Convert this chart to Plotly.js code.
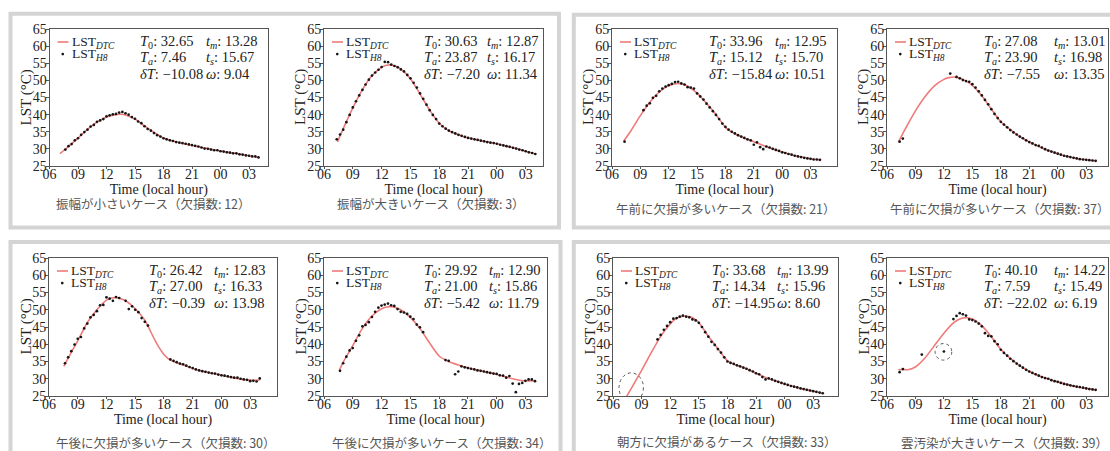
<!DOCTYPE html>
<html><head><meta charset="utf-8">
<script src="https://cdn.plot.ly/plotly-3.0.1.min.js"></script>
<style>html,body{margin:0;padding:0;background:#fff}#chart{width:1110px;height:451px}</style>
</head><body><div id="chart"></div>
<script>
// ---------------- DATA ----------------
const tickHours = [6, 9, 12, 15, 18, 21, 24, 27];
const tickLabels = ['06', '09', '12', '15', '18', '21', '00', '03'];
const lstTicks = [25, 30, 35, 40, 45, 50, 55, 60, 65];

const captions = [
  '振幅が小さいケース（欠損数: 12）',
  '振幅が大きいケース（欠損数: 3）',
  '午前に欠損が多いケース（欠損数: 21）',
  '午前に欠損が多いケース（欠損数: 37）',
  '午後に欠損が多いケース（欠損数: 30）',
  '午後に欠損が多いケース（欠損数: 34）',
  '朝方に欠損があるケース（欠損数: 33）',
  '雲汚染が大きいケース（欠損数: 39）'
];
const paramT0 = ['32.65', '30.63', '33.96', '27.08', '26.42', '29.92', '33.68', '40.10'];
const paramTa = ['7.46', '23.87', '15.12', '23.90', '27.00', '21.00', '14.34', '7.59'];
const paramDT = ['−10.08', '−7.20', '−15.84', '−7.55', '−0.39', '−5.42', '−14.95', '−22.02'];
const paramTm = ['13.28', '12.87', '12.95', '13.01', '12.83', '12.90', '13.99', '14.22'];
const paramTs = ['15.67', '16.17', '15.70', '16.98', '16.33', '15.86', '15.96', '15.49'];
const paramW  = ['9.04', '11.34', '10.51', '13.35', '13.98', '11.79', '8.60', '6.19'];

// Himawari-8 observation times (local hour, >24 = next day)
const obsHours = [7.33, 7.67,
  8, 8.33, 8.67, 9, 9.33, 9.67, 10, 10.33, 10.67, 11, 11.33, 11.67, 12, 12.33, 12.67,
  13, 13.33, 13.67, 14, 14.33, 14.67, 15, 15.33, 15.67, 16, 16.33, 16.67, 17, 17.33, 17.67,
  18, 18.33, 18.67, 19, 19.33, 19.67, 20, 20.33, 20.67, 21, 21.33, 21.67, 22, 22.33, 22.67,
  23, 23.33, 23.67, 24, 24.33, 24.67, 25, 25.33, 25.67, 26, 26.33, 26.67, 27, 27.33, 27.67,
  28];

// LST_H8 observations (null = missing)
const h8LST1 = [null, 29.8, 30.8, 31.4, 32.5, 33.1, 34.1, 34.9, 35.6, 36.5, 37.0, 37.9, 38.3, 38.7, 39.5, 39.8, 40.1,
  40.2, 40.6, 40.8, 40.4, 40.0, 39.3, 38.8, 38.0, 37.5, 36.6, 35.8, 35.3, 34.6, 34.0, 33.6,
  33.1, 32.8, 32.5, 32.3, 32.0, 31.8, 31.7, 31.5, 31.3, 31.1, 30.9, 30.7, 30.4, 30.1, 30.0,
  29.8, 29.6, 29.6, 29.3, 29.2, 29.0, 28.9, 28.7, 28.7, 28.4, 28.3, 28.1, 28.0, 27.8, 27.8, 27.5];
const h8LST2 = [32.8, 34.2, 35.6, 37.8, 39.9, 42.1, 43.9, 45.6, 47.2, 48.8, 50.2, 51.4, 52.3, 53.1, 53.9, 55.4, 55.3,
  54.6, 54.2, 53.8, 53.2, 52.6, 51.6, 50.6, 49.3, 47.9, 46.2, 44.6, 42.9, 41.3, 39.9, 38.7,
  37.4, 36.6, 35.9, 35.3, 34.9, 34.5, 34.1, 33.8, 33.5, 33.2, 33.0, 32.8, 32.6, 32.4, 32.2,
  32.0, 31.8, 31.7, 31.5, 31.2, 31.0, 30.8, 30.6, 30.3, 30.1, 29.8, 29.6, 29.3, 29.0, 28.8, 28.5];
const h8LST3 = [32.1, null, null, null, null, null, 41.3, 42.6, 43.3, 44.9, 45.5, 46.8, 47.6, 48.2, 48.6, 49.0, 49.5,
  49.6, 49.1, 48.8, 48.0, 47.9, 47.6, 46.2, 45.3, 44.4, 43.2, 42.1, 41.0, 39.9, 38.7, 37.4,
  36.4, 35.6, 35.0, 34.5, 34.0, 33.6, 33.2, 32.8, 32.5, 31.2, 31.9, 30.5, 29.9, 30.7, 30.4,
  30.0, 29.7, 29.4, 29.0, 28.8, 28.5, 28.3, 28.0, 27.8, 27.6, 27.4, 27.2, 27.1, 26.9, 26.9, 26.8];
const h8LST4 = [32.1, 33.0, null, null, null, null, null, null, null, null, null, null, null, null, null, null, 52.0,
  null, 51.0, 50.6, 50.1, 49.8, 49.6, 48.9, 47.9, 46.8, 45.6, 44.3, 43.0, 41.6, 40.2, 39.0,
  37.9, 37.1, 36.3, 35.5, 34.8, 34.2, 33.6, 33.1, 32.5, 32.0, 31.6, 31.1, 30.9, 30.4, 29.9,
  29.5, 29.2, 28.9, 28.6, 28.3, 28.0, 27.8, 27.6, 27.4, 27.2, 27.0, 26.9, 26.8, 26.7, 26.6, 26.5];
const h8LST5 = [null, 34.5, 36.2, 38.0, 39.9, 41.6, 42.1, 44.6, 46.0, 47.8, 48.5, 49.6, 51.3, 51.4, 53.6, 53.2, 52.6,
  53.7, 53.4, null, 52.6, 50.2, 51.0, 50.0, 49.3, 47.6, 46.5, 45.4, null, null, null, null,
  null, null, 35.6, 35.2, 34.8, 34.4, 34.2, 33.8, 33.4, 33.1, 32.7, 32.4, 32.2, 32.0, 31.8,
  31.6, 31.5, 31.2, 31.0, 30.9, 30.7, 30.5, 30.3, 30.3, 30.0, 29.8, 29.7, 29.3, 29.4, 29.2, 30.1];
const h8LST6 = [null, 32.3, 34.5, 36.4, 38.2, 38.9, 41.0, 42.6, 45.2, 45.6, 46.4, 47.9, 49.4, 50.6, 51.2, 51.5, 51.8,
  51.3, 51.1, 50.2, 49.4, 49.2, 48.8, 48.0, 47.3, 45.7, 44.9, 43.5, null, null, null, null,
  null, null, 35.4, 35.2, null, 31.3, 32.1, 33.6, 33.3, 33.1, 32.9, 32.7, 32.4, 32.3, 32.1,
  31.9, 31.7, 31.5, 31.4, 31.0, 30.9, 30.3, 30.8, 28.6, 26.1, 28.5, 28.8, 29.4, 29.8, 29.8, 29.3];
const h8LST7 = [null, null, null, null, null, null, null, null, null, null, 41.4, 42.7, 44.2, 45.3, 46.4, 47.4, 47.6,
  48.0, 48.3, 48.0, 47.8, 47.2, 46.9, 46.2, 45.0, 43.5, 42.2, 40.7, 39.8, 38.6, 37.6, 36.2,
  35.0, 34.6, 34.3, 33.9, 33.6, 33.2, 32.9, 32.5, 32.1, 31.6, 31.3, 30.5, 29.8, 30.1, 29.8,
  29.4, 29.1, 28.8, 28.5, 28.2, 27.9, 27.7, 27.5, 27.2, 27.0, 26.8, 26.6, 26.4, 26.2, 26.0, 25.8];
const h8LST8 = [31.9, 32.8, null, null, null, null, null, 37.0, null, null, null, null, null, null, 37.9, null, null,
  47.3, 48.2, 49.0, 48.7, 48.3, 47.2, 47.0, 46.6, 46.0, 45.2, 43.2, 42.4, 42.3, 40.9, 40.0,
  38.4, 37.5, 36.7, 35.8, 35.1, 34.4, 33.8, 33.2, 32.6, 32.1, 31.7, 31.3, 30.9, 30.5, 30.2,
  30.0, 29.6, 29.3, 29.1, 28.8, 28.5, 28.3, 28.1, 27.9, 27.7, 27.6, 27.4, 27.2, 27.0, 26.9, 26.8];

// LST_DTC fitted curves (hour, value)
const dtcHours1 = [7.1, 8, 9, 10, 11, 12, 13, 13.5, 14, 15, 16, 17, 18, 19, 20, 21, 22, 23, 24, 25, 26, 27, 28];
const dtcLST1 = [28.6, 30.7, 33.2, 35.7, 37.8, 39.3, 40.0, 40.1, 39.9, 38.7, 36.7, 34.8, 33.2, 32.3, 31.6, 31.0, 30.4, 29.9, 29.4, 28.9, 28.5, 28.0, 27.5];
const dtcHours2 = [7.4, 8, 9, 10, 11, 12, 12.5, 13, 13.5, 14, 15, 16, 17, 18, 19, 20, 21, 22, 23, 24, 25, 26, 27, 28];
const dtcLST2 = [32.0, 35.9, 42.0, 47.3, 51.4, 53.8, 54.4, 54.5, 54.1, 53.3, 50.5, 46.0, 41.3, 37.5, 35.3, 34.1, 33.2, 32.6, 32.0, 31.5, 30.8, 30.1, 29.3, 28.5];
const dtcHours3 = [7.25, 8, 9, 10, 11, 12, 12.5, 13, 13.5, 14, 15, 16, 17, 18, 19, 20, 21, 22, 23, 24, 25, 26, 27, 28];
const dtcLST3 = [32.3, 35.3, 39.7, 43.6, 46.6, 48.5, 48.9, 49.1, 48.9, 48.3, 46.3, 43.3, 40.0, 36.3, 34.4, 33.1, 32.1, 31.0, 30.0, 29.1, 28.3, 27.6, 27.1, 26.8];
const dtcHours4 = [7.2, 8, 9, 10, 11, 12, 12.5, 13, 13.5, 14, 15, 16, 17, 18, 19, 20, 21, 22, 23, 24, 25, 26, 27, 28];
const dtcLST4 = [32.0, 36.2, 41.1, 45.2, 48.4, 50.3, 50.8, 51.0, 50.8, 50.3, 48.5, 45.5, 41.6, 37.9, 35.6, 33.6, 32.0, 30.7, 29.5, 28.6, 27.8, 27.2, 26.8, 26.5];
const dtcHours5 = [7.55, 8, 9, 10, 11, 12, 12.5, 13, 13.5, 14, 15, 16, 16.5, 17, 17.5, 18, 18.5, 19, 20, 21, 22, 23, 24, 25, 26, 27, 28];
const dtcLST5 = [33.6, 36.0, 41.0, 46.3, 50.0, 52.8, 53.4, 53.5, 53.2, 52.6, 50.3, 47.0, 44.3, 41.5, 39.0, 37.0, 35.7, 35.0, 34.0, 33.0, 32.2, 31.6, 31.0, 30.4, 29.9, 29.6, 29.6];
const dtcHours6 = [7.6, 8, 9, 10, 11, 12, 12.5, 13, 13.5, 14, 15, 16, 17, 18, 19, 20, 21, 22, 23, 24, 25, 26, 27, 28];
const dtcLST6 = [32.4, 34.8, 39.6, 44.6, 48.2, 50.3, 50.8, 50.9, 50.6, 50.0, 47.8, 44.6, 40.4, 36.6, 35.0, 34.0, 33.2, 32.5, 31.9, 31.3, 30.5, 29.8, 29.4, 29.4];
const dtcHours7 = [7.2, 8, 9, 10, 11, 12, 12.5, 13, 13.5, 14, 14.5, 15, 16, 17, 18, 19, 20, 21, 22, 23, 24, 25, 26, 27, 28];
const dtcLST7 = [23.8, 27.6, 32.4, 37.5, 42.3, 45.9, 47.2, 47.9, 48.1, 48.0, 47.4, 46.3, 42.3, 38.7, 35.2, 33.9, 32.9, 31.6, 30.4, 29.4, 28.5, 27.7, 27.0, 26.4, 25.8];
const dtcHours8 = [7.2, 7.7, 8.2, 9, 10, 11, 12, 13, 13.5, 14, 14.5, 15, 15.5, 16, 17, 18, 19, 20, 21, 22, 23, 24, 25, 26, 27, 28];
const dtcLST8 = [32.6, 32.7, 32.6, 33.4, 36.0, 39.6, 43.2, 46.2, 47.1, 47.6, 47.7, 47.3, 46.5, 45.4, 42.2, 38.5, 35.9, 33.8, 32.1, 30.9, 29.9, 29.1, 28.3, 27.7, 27.2, 26.7];

// dotted circles marking problem regions
const highlightPanel = [6, 7];
const highlightX0 = [6.63, 11.07];
const highlightX1 = [9.19, 12.83];
const highlightY0 = [23.1, 35.4];
const highlightY1 = [31.7, 40.2];

// ---------------- LAYOUT CONFIG ----------------
const W = 1110, H = 451;
const px2x = p => p / W, px2y = p => 1 - p / H;
const frameX = [[49.5, 268], [324, 543], [612, 837], [887, 1108], [49, 277], [324, 547], [613, 838], [887, 1108]];
const frameY = [[29, 166], [29, 166], [29, 166], [29, 166], [258, 396], [258, 396], [258, 396], [258, 396]];
const xMax = [29.0, 28.8, 29.8, 29.3, 29.8, 29.25, 29.6, 29.3];
const paramCol = [[88.5, 154.5], [97.7, 161], [94.7, 161], [94.7, 164.7], [97.7, 162.7], [97.7, 162.7], [97, 162], [94.7, 164.7]];
const capPos = [[153, 203], [431, 203], [726, 209], [1000, 209], [166, 442], [442, 442], [727, 441], [1004, 442]];
const boxes = [[10.5, 13.8, 559, 227.5], [573.8, 14.7, 1116, 227.5], [10.5, 242, 560.5, 456], [573.8, 242, 1116, 456]];

const dtcHours = [dtcHours1, dtcHours2, dtcHours3, dtcHours4, dtcHours5, dtcHours6, dtcHours7, dtcHours8];
const dtcLST = [dtcLST1, dtcLST2, dtcLST3, dtcLST4, dtcLST5, dtcLST6, dtcLST7, dtcLST8];
const h8LST = [h8LST1, h8LST2, h8LST3, h8LST4, h8LST5, h8LST6, h8LST7, h8LST8];

const RED = '#f07a7a', INK = '#151515', AX = '#555555', TXT = '#222222';
const serif = '"Liberation Serif", "Times New Roman", Times, serif';
const cjk = '"Noto Sans CJK JP", "Noto Sans CJK SC", sans-serif';
const traces = [], annotations = [], shapes = [];
const layout = {
  width: W, height: H, margin: {l: 0, r: 0, t: 0, b: 0},
  paper_bgcolor: '#ffffff', plot_bgcolor: '#ffffff', showlegend: false, hovermode: false,
  font: {family: serif, color: TXT}
};

boxes.forEach(b => shapes.push({type: 'rect', xref: 'paper', yref: 'paper', layer: 'below',
  x0: px2x(b[0]), x1: px2x(b[2]), y0: px2y(b[3]), y1: px2y(b[1]),
  line: {color: '#d4d4d4', width: 4}, fillcolor: 'rgba(0,0,0,0)'}));

for (let i = 0; i < 8; i++) {
  const s = i === 0 ? '' : String(i + 1);
  const xa = 'x' + s, ya = 'y' + s;
  traces.push({type: 'scatter', mode: 'lines', x: dtcHours[i], y: dtcLST[i], xaxis: xa, yaxis: ya,
    line: {color: RED, width: 1.6, shape: 'spline', smoothing: 0.6}, name: 'LST DTC'});
  traces.push({type: 'scatter', mode: 'markers', x: obsHours, y: h8LST[i], xaxis: xa, yaxis: ya,
    marker: {size: 2.7, color: INK}, name: 'LST H8'});

  layout['xaxis' + s] = {
    domain: [px2x(frameX[i][0]), px2x(frameX[i][1])], range: [6, xMax[i]], anchor: ya,
    tickmode: 'array', tickvals: tickHours, ticktext: tickLabels,
    ticks: 'outside', ticklen: 2, tickwidth: 1, tickcolor: AX, ticklabelstandoff: -7,
    showline: true, linecolor: AX, linewidth: 1, mirror: true, showgrid: false, zeroline: false,
    tickfont: {family: serif, size: 14, color: TXT},
    title: {text: 'Time (local hour)', font: {family: serif, size: 14, color: TXT}, standoff: 0},
    fixedrange: true
  };
  layout['yaxis' + s] = {
    domain: [px2y(frameY[i][1]), px2y(frameY[i][0])], range: [25, 65], anchor: xa,
    tickmode: 'array', tickvals: lstTicks, ticktext: lstTicks.map(String),
    ticks: 'outside', ticklen: 3, tickwidth: 1, tickcolor: AX, ticklabelstandoff: -4,
    showline: true, linecolor: AX, linewidth: 1, mirror: true, showgrid: false, zeroline: false,
    tickfont: {family: serif, size: 14, color: TXT},
    fixedrange: true
  };

  const L = frameX[i][0], T = frameY[i][0], B = frameY[i][1];
  // y-axis title, set close to the tick labels as in the original figure
  annotations.push({xref: 'paper', yref: 'paper', x: px2x(L - 23.5), y: px2y((T + B) / 2),
    xanchor: 'center', yanchor: 'middle', textangle: -90, text: 'LST (°C)', showarrow: false,
    font: {family: serif, size: 15, color: TXT}});
  // legend
  shapes.push({type: 'line', xref: 'paper', yref: 'paper', x0: px2x(L + 8), x1: px2x(L + 19),
    y0: px2y(T + 13), y1: px2y(T + 13), line: {color: RED, width: 1.6}});
  shapes.push({type: 'circle', xref: 'paper', yref: 'paper', x0: px2x(L + 11.9), x1: px2x(L + 14.6),
    y0: px2y(T + 26.4), y1: px2y(T + 23.7), fillcolor: INK, line: {width: 0}});
  annotations.push({xref: 'paper', yref: 'paper', x: px2x(L + 20), y: px2y(T + 13), xanchor: 'left', yanchor: 'middle',
    text: 'LST<sub><i>DTC</i></sub>', showarrow: false, font: {family: serif, size: 13.5, color: TXT}});
  annotations.push({xref: 'paper', yref: 'paper', x: px2x(L + 20), y: px2y(T + 25.5), xanchor: 'left', yanchor: 'middle',
    text: 'LST<sub><i>H8</i></sub>', showarrow: false, font: {family: serif, size: 13.5, color: TXT}});
  // parameters
  const left = ['<i>T</i><sub>0</sub>: ' + paramT0[i], '<i>T<sub>a</sub></i>: ' + paramTa[i], '<i>δT</i>: ' + paramDT[i]];
  const right = ['<i>t<sub>m</sub></i>: ' + paramTm[i], '<i>t<sub>s</sub></i>: ' + paramTs[i], '<i>ω</i>: ' + paramW[i]];
  const rows = [13, 29, 45];
  for (let r = 0; r < 3; r++) {
    annotations.push({xref: 'paper', yref: 'paper', x: px2x(L + paramCol[i][0]), y: px2y(T + rows[r]),
      xanchor: 'left', yanchor: 'middle', text: left[r], showarrow: false, font: {family: serif, size: 14.5, color: TXT}});
    annotations.push({xref: 'paper', yref: 'paper', x: px2x(L + paramCol[i][1]), y: px2y(T + rows[r]),
      xanchor: 'left', yanchor: 'middle', text: right[r], showarrow: false, font: {family: serif, size: 14.5, color: TXT}});
  }
  // caption
  annotations.push({xref: 'paper', yref: 'paper', x: px2x(capPos[i][0]), y: px2y(capPos[i][1]),
    xanchor: 'center', yanchor: 'middle', text: captions[i], showarrow: false,
    font: {family: cjk, size: 12.5, color: '#555555'}});
}

for (let k = 0; k < highlightPanel.length; k++) {
  const s = String(highlightPanel[k] + 1);
  shapes.push({type: 'circle', xref: 'x' + s, yref: 'y' + s,
    x0: highlightX0[k], x1: highlightX1[k], y0: highlightY0[k], y1: highlightY1[k],
    line: {color: '#555555', width: 1, dash: 'dot'}, fillcolor: 'rgba(0,0,0,0)'});
}

layout.annotations = annotations;
layout.shapes = shapes;
Plotly.newPlot('chart', traces, layout, {displayModeBar: false, staticPlot: true});
</script></body></html>
